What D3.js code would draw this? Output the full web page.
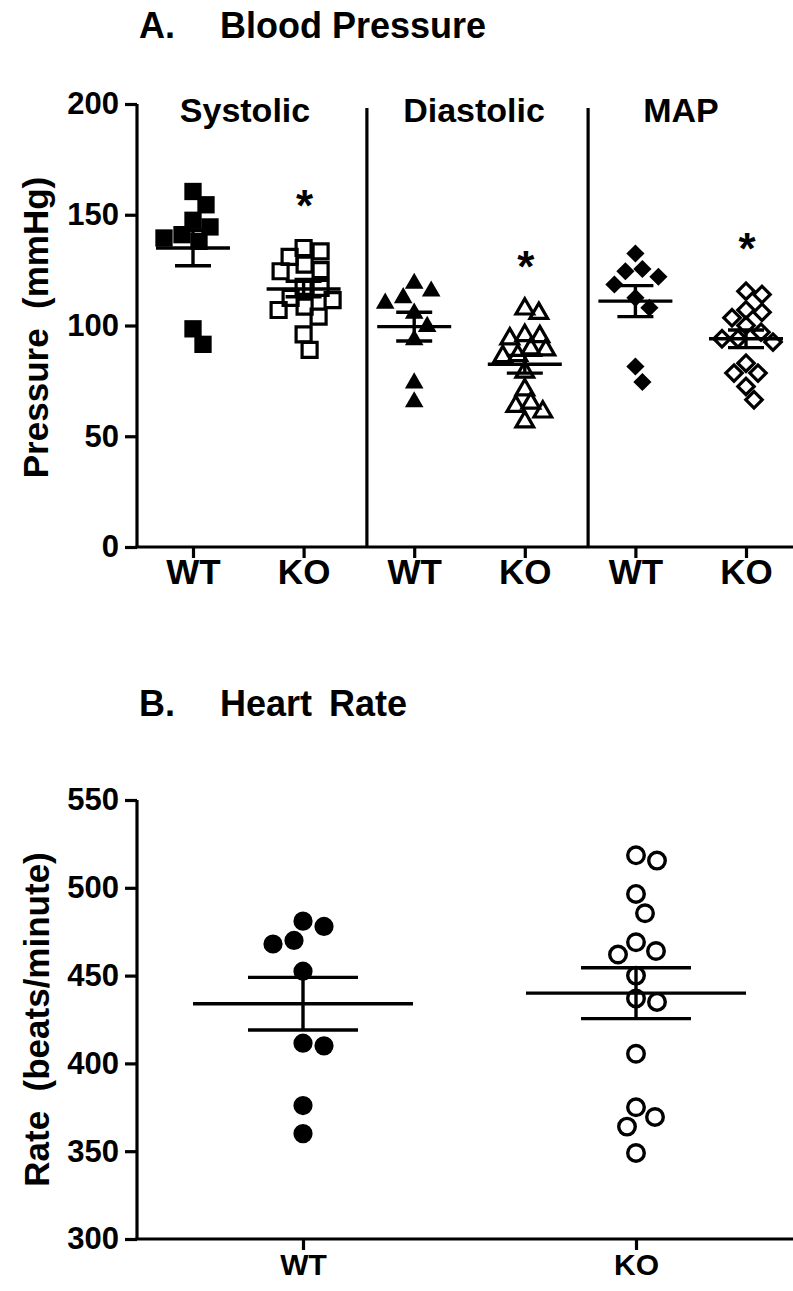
<!DOCTYPE html>
<html>
<head>
<meta charset="utf-8">
<script src="https://cdn.jsdelivr.net/npm/d3@7"></script>
<style>
  html, body { margin: 0; padding: 0; background: #fff; }
  text { font-family: "Liberation Sans", Arial, Helvetica, sans-serif; font-weight: bold; fill: #000; }
</style>
</head>
<body>
<svg id="chart" width="793" height="1291"></svg>
<script>
// ---------- DATA ----------
const measures = ["Systolic", "Diastolic", "MAP"];
const genotypes = ["WT", "KO"];
const groupLabelsA = ["WT", "KO", "WT", "KO", "WT", "KO"];

const systolicWT = [160.5, 154.5, 147.5, 144.5, 141, 139.5, 138, 98.5, 91.5];
const systolicKO = [135, 133.5, 131, 127.5, 125, 124.5, 117.5, 117, 112.5, 111.5, 108.5, 107, 104, 96, 89];
const diastolicWT = [119, 115.5, 112.5, 110, 105.5, 99.5, 93.5, 74, 65.5];
const diastolicKO = [107.5, 105.5, 95.5, 95, 94, 89.5, 89, 86.5, 86, 79, 71, 65, 63.5, 61, 56.5];
const mapWT = [132.5, 125.5, 124.5, 122, 118.5, 112.5, 108, 81.5, 74.5];
const mapKO = [115.5, 114, 107, 106, 103.5, 100, 97, 94, 94, 92.5, 83, 78.5, 78.5, 72.5, 66.5];

const meansA = [135, 116.5, 99.5, 82.5, 111, 94];
const semsA = [8, 3.5, 6.5, 4, 7, 4];
const significantA = [false, true, false, true, false, true];
const ticksA = [0, 50, 100, 150, 200];

const heartRateWT = [481, 478, 470, 468, 452.5, 411.5, 410, 376, 360];
const heartRateKO = [518.5, 515.5, 496.5, 485.5, 469, 464, 462, 450, 437, 435, 405.5, 375, 369.5, 364, 349];
const meansB = [434, 440];
const semsB = [15, 14.5];
const ticksB = [300, 350, 400, 450, 500, 550];

// ---------- SETUP ----------
const svg = d3.select("#chart");
const FONT = '"Liberation Sans", Arial, Helvetica, sans-serif';

function dodge(values, cx, yScale, sep) {
  const pts = values.map(v => ({ v, y: yScale(v), x: cx }));
  const placed = [];
  const order = pts.slice().sort((a, b) => a.y - b.y);
  for (const p of order) {
    for (let k = 0; k < 400; k++) {
      const off = (k % 2 ? 1 : -1) * Math.ceil(k / 2) * 1;
      const x = cx + off;
      if (placed.every(q => Math.hypot(q.x - x, q.y - p.y) >= sep)) { p.x = x; break; }
    }
    placed.push(p);
  }
  return pts;
}

// ---------- PANEL A ----------
const yA = d3.scaleLinear().domain([0, 200]).range([547, 104]);
const xA = d3.scalePoint().domain(d3.range(6)).range([193, 746]);
const axisLeftX = 137;

svg.append("text").attr("x", 139).attr("y", 38).attr("font-size", 36).text("A.");
svg.append("text").attr("x", 220).attr("y", 38).attr("font-size", 36).text("Blood Pressure");

// y axis
const gyA = svg.append("g").attr("transform", `translate(${axisLeftX},0)`)
  .call(d3.axisLeft(yA).tickValues(ticksA).tickSize(12).tickPadding(6).tickFormat(d3.format("d")));
gyA.select(".domain").attr("stroke", "#000").attr("stroke-width", 3.2).attr("d", `M0,${yA(200)}V${yA(0)}`);
gyA.selectAll(".tick line").attr("stroke", "#000").attr("stroke-width", 3.2);
gyA.selectAll(".tick text").attr("font-size", 31).attr("font-family", FONT).attr("font-weight", "bold").attr("fill", "#000");

// x axis
const gxA = svg.append("g").attr("transform", `translate(0,${yA(0)})`)
  .call(d3.axisBottom(xA).tickSize(11).tickPadding(4).tickFormat(i => groupLabelsA[i]));
gxA.select(".domain").attr("stroke", "#000").attr("stroke-width", 3.2).attr("d", `M${axisLeftX - 1.6},0H793`);
gxA.selectAll(".tick line").attr("stroke", "#000").attr("stroke-width", 3.2);
gxA.selectAll(".tick text").attr("font-size", 35).attr("font-family", FONT).attr("font-weight", "bold").attr("fill", "#000").attr("dy", "0.62em");

svg.append("text").attr("transform", `translate(36,${(yA(0) + yA(200)) / 2 + 2}) rotate(-90)`)
  .attr("text-anchor", "middle").attr("dy", "0.35em").attr("font-size", 35)
  .attr("xml:space", "preserve").style("white-space", "pre").text("Pressure  (mmHg)");

// separators and measure headers
const sepX = [1, 3].map(i => (xA(i) + xA(i + 1)) / 2 + 8);
sepX.forEach(x => svg.append("line").attr("x1", x).attr("x2", x).attr("y1", 108).attr("y2", yA(0))
  .attr("stroke", "#000").attr("stroke-width", 3.2));
const headerX = [245, 474, 681];
measures.forEach((m, i) => svg.append("text").attr("x", headerX[i]).attr("y", 122)
  .attr("text-anchor", "middle").attr("font-size", 34).text(m));

const groupsA = [systolicWT, systolicKO, diastolicWT, diastolicKO, mapWT, mapKO];
const shapes = [
  { type: d3.symbolSquare, size: 300, filled: true, rot: 0, sep: 18 },
  { type: d3.symbolSquare, size: 225, filled: false, rot: 0, sep: 16.5 },
  { type: d3.symbolTriangle, size: 150, filled: true, rot: 0, sep: 18 },
  { type: d3.symbolTriangle, size: 135, filled: false, rot: 0, sep: 14.5 },
  { type: d3.symbolSquare, size: 165, filled: true, rot: 45, sep: 17 },
  { type: d3.symbolSquare, size: 135, filled: false, rot: 45, sep: 15.5 }
];

groupsA.forEach((vals, gi) => {
  const sh = shapes[gi];
  const pts = dodge(vals, xA(gi), yA, sh.sep);
  const sym = d3.symbol().type(sh.type).size(sh.size);
  svg.append("g").selectAll("path").data(pts).join("path")
    .attr("d", sym)
    .attr("transform", d => `translate(${d.x},${d.y}) rotate(${sh.rot})`)
    .attr("fill", sh.filled ? "#000" : "none")
    .attr("stroke", "#000")
    .attr("stroke-width", sh.filled ? 0 : 3.2);
});

function errorBar(cx, mean, sem, yScale, halfMean, halfSem) {
  const g = svg.append("g").attr("stroke", "#000").attr("stroke-width", 3.4);
  g.append("line").attr("x1", cx - halfMean).attr("x2", cx + halfMean).attr("y1", yScale(mean)).attr("y2", yScale(mean));
  g.append("line").attr("x1", cx).attr("x2", cx).attr("y1", yScale(mean + sem)).attr("y2", yScale(mean - sem));
  [mean + sem, mean - sem].forEach(v => g.append("line").attr("x1", cx - halfSem).attr("x2", cx + halfSem).attr("y1", yScale(v)).attr("y2", yScale(v)));
}
meansA.forEach((m, i) => errorBar(xA(i), m, semsA[i], yA, 37, 18));

// significance stars
groupsA.forEach((vals, i) => {
  if (!significantA[i]) return;
  svg.append("text").attr("x", xA(i) + 1).attr("y", yA(d3.max(vals)) - 53 + 26)
    .attr("text-anchor", "middle").attr("font-size", 44).text("*");
});

// ---------- PANEL B ----------
const yB = d3.scaleLinear().domain([300, 550]).range([1239, 800]);
const xB = d3.scalePoint().domain(genotypes).range([303, 636]);

svg.append("text").attr("x", 139).attr("y", 716).attr("font-size", 36).text("B.");
svg.append("text").attr("x", 220).attr("y", 716).attr("font-size", 36).text("Heart");
svg.append("text").attr("x", 329).attr("y", 716).attr("font-size", 36).text("Rate");

const gyB = svg.append("g").attr("transform", `translate(${axisLeftX},0)`)
  .call(d3.axisLeft(yB).tickValues(ticksB).tickSize(12).tickPadding(6).tickFormat(d3.format("d")));
gyB.select(".domain").attr("stroke", "#000").attr("stroke-width", 3.2).attr("d", `M0,${yB(550)}V${yB(300)}`);
gyB.selectAll(".tick line").attr("stroke", "#000").attr("stroke-width", 3.2);
gyB.selectAll(".tick text").attr("font-size", 31).attr("font-family", FONT).attr("font-weight", "bold").attr("fill", "#000");

const gxB = svg.append("g").attr("transform", `translate(0,${yB(300)})`)
  .call(d3.axisBottom(xB).tickSize(11).tickPadding(4));
gxB.select(".domain").attr("stroke", "#000").attr("stroke-width", 3.2).attr("d", `M${axisLeftX - 1.6},0H793`);
gxB.selectAll(".tick line").attr("stroke", "#000").attr("stroke-width", 3.2);
gxB.selectAll(".tick text").attr("font-size", 30).attr("font-family", FONT).attr("font-weight", "bold").attr("fill", "#000").attr("dy", "0.7em");

svg.append("text").attr("transform", `translate(37,${(yB(300) + yB(550)) / 2}) rotate(-90)`)
  .attr("text-anchor", "middle").attr("dy", "0.35em").attr("font-size", 35)
  .attr("xml:space", "preserve").style("white-space", "pre").text("Rate  (beats/minute)");

const groupsB = [heartRateWT, heartRateKO];
const circleShapes = [
  { size: 290, filled: true, sep: 21 },
  { size: 215, filled: false, sep: 21 }
];
groupsB.forEach((vals, gi) => {
  const sh = circleShapes[gi];
  const pts = dodge(vals, xB(genotypes[gi]), yB, sh.sep);
  const sym = d3.symbol().type(d3.symbolCircle).size(sh.size);
  svg.append("g").selectAll("path").data(pts).join("path")
    .attr("d", sym)
    .attr("transform", d => `translate(${d.x},${d.y})`)
    .attr("fill", sh.filled ? "#000" : "none")
    .attr("stroke", "#000")
    .attr("stroke-width", sh.filled ? 0 : 3.4);
});
meansB.forEach((m, i) => errorBar(xB(genotypes[i]), m, semsB[i], yB, 110, 55));
</script>
</body>
</html>
